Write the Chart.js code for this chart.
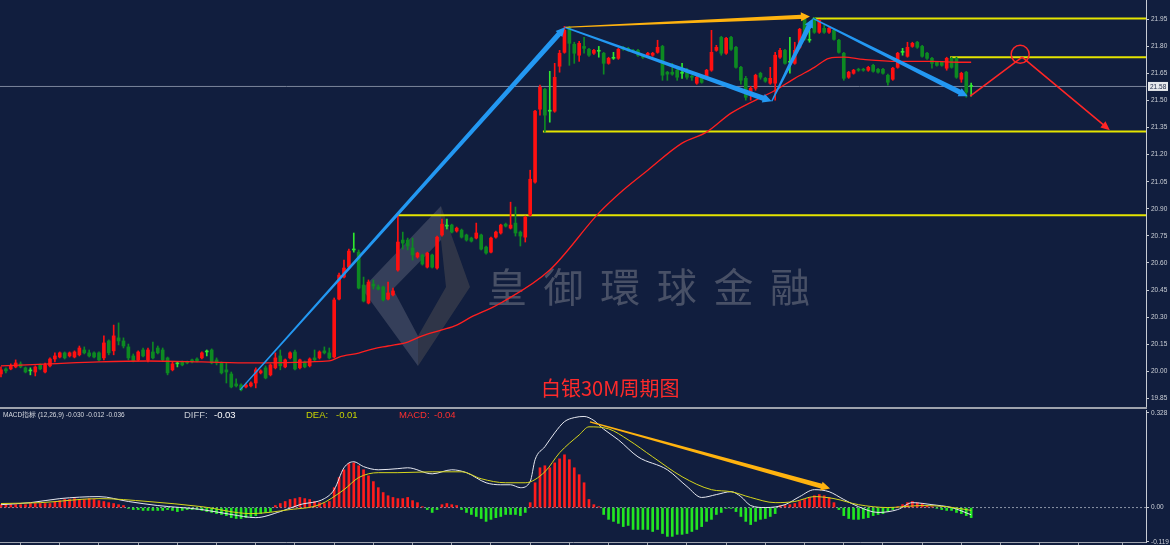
<!DOCTYPE html>
<html>
<head>
<meta charset="utf-8">
<script src="https://cdn.jsdelivr.net/npm/chart.js@4.4.0/dist/chart.umd.min.js"></script>
<style>
  html, body { margin: 0; padding: 0; background: #111e3e; }
  #wrap { position: relative; width: 1170px; height: 545px; overflow: hidden; background: #111e3e; }
  #main { position: absolute; left: 0; top: 0; }
  #sep { position: absolute; left: 0; top: 407px; width: 1147px; height: 2px; background: #9ea3ad; }
  #macd { position: absolute; left: 0; top: 410px; }
</style>
</head>
<body>
<div id="wrap">
  <canvas id="main" width="1170" height="407"></canvas>
  <div id="sep"></div>
  <canvas id="macd" width="1170" height="135"></canvas>
</div>
<script>
// silver, 30 minute candles
const opens = [
19.985,20.013,20.013,20.024,20.041,20.019,20.002,19.996,20.035,19.996,
20.030,20.068,20.079,20.102,20.085,20.079,20.091,20.118,20.102,20.102,
20.102,20.074,20.168,20.113,20.185,20.168,20.135,20.085,20.063,20.118,
20.063,20.107,20.129,20.118,20.074,20.008,20.041,20.052,20.052,20.063,
20.068,20.074,20.107,20.118,20.063,20.046,20.008,19.985,19.930,19.924,
19.913,19.919,19.935,19.991,20.019,19.980,20.019,20.085,20.024,20.074,
20.107,20.019,20.052,20.030,20.074,20.074,20.113,20.102,20.079,20.400,
20.522,20.577,20.672,20.660,20.478,20.378,20.483,20.467,20.467,20.400,
20.423,20.561,20.727,20.727,20.683,20.633,20.644,20.577,20.644,20.572,
20.755,20.804,20.810,20.777,20.782,20.755,20.738,20.738,20.755,20.688,
20.660,20.743,20.766,20.815,20.793,20.821,20.771,20.743,20.865,21.048,
21.452,21.562,21.441,21.441,21.690,21.767,21.906,21.812,21.751,21.800,
21.784,21.762,21.773,21.762,21.706,21.734,21.734,21.795,21.789,21.778,
21.778,21.751,21.751,21.751,21.767,21.800,21.657,21.657,21.668,21.651,
21.668,21.634,21.596,21.629,21.629,21.668,21.778,21.850,21.762,21.850,
21.795,21.684,21.623,21.546,21.568,21.651,21.623,21.596,21.596,21.740,
21.778,21.712,21.706,21.795,21.950,21.834,21.955,21.878,21.900,21.878,
21.889,21.834,21.762,21.629,21.651,21.673,21.673,21.668,21.695,21.673,
21.673,21.640,21.618,21.684,21.767,21.745,21.800,21.823,21.800,21.762,
21.734,21.712,21.712,21.679,21.734,21.734,21.618,21.657,21.578
];
const highs = [
20.024,20.019,20.041,20.063,20.052,20.024,20.019,20.030,20.041,20.046,
20.074,20.102,20.107,20.107,20.107,20.113,20.140,20.135,20.118,20.107,
20.107,20.196,20.174,20.256,20.268,20.185,20.151,20.096,20.113,20.129,
20.129,20.162,20.140,20.129,20.079,20.052,20.052,20.057,20.057,20.068,
20.074,20.107,20.118,20.124,20.074,20.052,20.046,19.996,19.958,19.930,
19.935,19.941,20.019,20.008,20.030,20.041,20.102,20.118,20.068,20.107,
20.118,20.068,20.057,20.074,20.118,20.113,20.135,20.129,20.406,20.544,
20.616,20.677,20.766,20.672,20.522,20.506,20.506,20.478,20.472,20.494,
20.461,20.865,20.771,20.738,20.738,20.660,20.649,20.660,20.649,20.749,
20.843,20.843,20.815,20.799,20.788,20.760,20.743,20.821,20.760,20.694,
20.743,20.777,20.815,20.821,20.937,20.910,20.777,20.860,21.114,21.446,
21.585,21.568,21.662,21.706,21.778,21.911,21.911,21.823,21.828,21.850,
21.789,21.784,21.800,21.767,21.740,21.767,21.789,21.800,21.795,21.784,
21.784,21.756,21.767,21.767,21.834,21.806,21.662,21.706,21.673,21.706,
21.679,21.640,21.634,21.634,21.673,21.889,21.806,21.856,21.850,21.856,
21.800,21.690,21.634,21.579,21.646,21.657,21.629,21.684,21.767,21.789,
21.784,21.850,21.823,21.900,21.955,21.889,21.961,21.950,21.917,21.906,
21.895,21.839,21.767,21.662,21.673,21.679,21.679,21.690,21.701,21.679,
21.679,21.646,21.684,21.767,21.789,21.823,21.823,21.828,21.806,21.767,
21.740,21.717,21.717,21.740,21.740,21.740,21.657,21.662,21.596
];
const lows = [
19.969,19.991,20.008,20.019,20.019,19.991,19.980,19.974,20.008,19.991,
20.024,20.052,20.074,20.068,20.079,20.074,20.085,20.096,20.079,20.074,
20.057,20.063,20.091,20.091,20.146,20.129,20.063,20.052,20.057,20.079,
20.052,20.068,20.096,20.057,19.980,20.002,20.024,20.030,20.041,20.046,
20.052,20.068,20.085,20.041,20.035,19.985,19.935,19.908,19.913,19.891,
19.908,19.913,19.908,19.985,19.958,19.974,20.013,20.008,20.019,20.068,
20.008,20.013,20.019,20.024,20.057,20.068,20.096,20.068,20.074,20.395,
20.517,20.572,20.660,20.456,20.384,20.373,20.456,20.450,20.389,20.395,
20.417,20.555,20.677,20.672,20.616,20.627,20.588,20.572,20.572,20.566,
20.749,20.788,20.766,20.771,20.738,20.721,20.716,20.733,20.672,20.649,
20.655,20.738,20.760,20.799,20.788,20.749,20.694,20.716,20.860,21.042,
21.419,21.325,21.380,21.435,21.657,21.762,21.695,21.706,21.717,21.762,
21.745,21.756,21.740,21.646,21.701,21.728,21.728,21.778,21.773,21.767,
21.745,21.734,21.745,21.745,21.762,21.612,21.612,21.640,21.612,21.623,
21.618,21.612,21.590,21.596,21.623,21.662,21.773,21.751,21.756,21.778,
21.679,21.590,21.502,21.502,21.557,21.618,21.601,21.590,21.502,21.734,
21.701,21.651,21.701,21.789,21.834,21.823,21.872,21.872,21.872,21.872,
21.834,21.762,21.612,21.623,21.646,21.662,21.662,21.662,21.657,21.651,
21.646,21.585,21.612,21.679,21.751,21.740,21.795,21.789,21.740,21.728,
21.679,21.690,21.690,21.668,21.679,21.623,21.601,21.518,21.524
];
const closes = [
20.008,20.002,20.030,20.046,20.024,19.996,20.002,20.024,20.013,20.035,
20.068,20.085,20.102,20.074,20.102,20.107,20.129,20.102,20.085,20.079,
20.063,20.157,20.102,20.196,20.168,20.140,20.074,20.057,20.107,20.085,
20.118,20.074,20.102,20.063,19.991,20.041,20.041,20.035,20.046,20.052,
20.057,20.102,20.107,20.046,20.046,19.991,19.996,19.913,19.919,19.897,
19.924,19.935,20.008,20.002,19.963,20.035,20.074,20.030,20.063,20.102,
20.013,20.063,20.024,20.068,20.063,20.107,20.102,20.074,20.395,20.533,
20.572,20.666,20.672,20.461,20.389,20.494,20.472,20.456,20.395,20.434,
20.445,20.716,20.710,20.694,20.644,20.655,20.594,20.655,20.577,20.743,
20.815,20.804,20.771,20.793,20.743,20.727,20.721,20.766,20.677,20.655,
20.738,20.771,20.810,20.804,20.810,20.766,20.749,20.854,21.064,21.441,
21.574,21.419,21.441,21.629,21.762,21.889,21.817,21.762,21.817,21.789,
21.751,21.778,21.773,21.706,21.734,21.734,21.784,21.784,21.778,21.773,
21.751,21.740,21.762,21.762,21.795,21.640,21.646,21.646,21.629,21.651,
21.629,21.629,21.629,21.601,21.668,21.767,21.795,21.762,21.845,21.784,
21.684,21.612,21.518,21.568,21.640,21.629,21.607,21.623,21.751,21.778,
21.706,21.712,21.778,21.895,21.839,21.834,21.878,21.944,21.878,21.900,
21.839,21.767,21.623,21.657,21.668,21.668,21.668,21.684,21.662,21.657,
21.651,21.601,21.679,21.762,21.767,21.795,21.817,21.795,21.745,21.734,
21.706,21.695,21.695,21.734,21.684,21.629,21.651,21.546,21.578
];

// red moving average, read at a few candles
const maIdx = [0,10,20,30,41,51,67,69,73,76,79,83,86,90,93,96,100,102,112,122,127,132,139,144,149,158,162,166,169,172,176,183,190,196,198];
const maVal = [20.030,20.041,20.052,20.057,20.052,20.046,20.057,20.079,20.101,20.124,20.140,20.162,20.196,20.229,20.256,20.301,20.350,20.378,20.561,20.876,21.004,21.114,21.264,21.325,21.430,21.557,21.623,21.684,21.734,21.740,21.728,21.717,21.717,21.712,21.712];

// MACD (12,26,9)
const hist = [
0.010,0.010,0.010,0.010,0.010,0.010,0.014,0.014,0.014,0.014,
0.014,0.021,0.024,0.028,0.028,0.031,0.028,0.028,0.031,0.028,
0.024,0.021,0.017,0.014,0.010,0.007,-0.003,-0.007,-0.007,-0.010,
-0.010,-0.010,-0.010,-0.010,-0.007,-0.010,-0.014,-0.010,-0.007,-0.007,
-0.007,-0.010,-0.014,-0.017,-0.021,-0.024,-0.028,-0.035,-0.038,-0.038,
-0.035,-0.031,-0.028,-0.021,-0.017,-0.014,0.007,0.014,0.021,0.028,
0.031,0.035,0.031,0.028,0.021,0.017,0.014,0.021,0.069,0.104,
0.131,0.152,0.155,0.145,0.131,0.110,0.090,0.069,0.052,0.041,
0.035,0.031,0.031,0.035,0.024,0.017,0.003,-0.007,-0.017,-0.007,
0.010,0.014,0.010,0.007,-0.007,-0.017,-0.024,-0.031,-0.038,-0.048,
-0.041,-0.035,-0.031,-0.024,-0.024,-0.024,-0.028,-0.017,0.017,0.086,
0.138,0.145,0.138,0.155,0.169,0.183,0.166,0.138,0.114,0.086,
0.028,0.010,0.003,-0.024,-0.041,-0.048,-0.055,-0.066,-0.062,-0.076,
-0.076,-0.076,-0.076,-0.083,-0.076,-0.090,-0.100,-0.100,-0.093,-0.093,
-0.090,-0.083,-0.076,-0.066,-0.048,-0.041,-0.024,-0.017,-0.003,-0.003,
-0.014,-0.031,-0.048,-0.059,-0.048,-0.041,-0.038,-0.031,-0.021,0.007,
0.007,0.010,0.014,0.021,0.028,0.035,0.041,0.045,0.041,0.035,
0.017,-0.007,-0.028,-0.038,-0.041,-0.041,-0.038,-0.035,-0.028,-0.024,
-0.021,-0.014,-0.007,0.003,0.010,0.017,0.021,0.017,0.014,0.007,
0.003,-0.003,-0.007,-0.010,-0.010,-0.017,-0.021,-0.028,-0.035
];
const difIdx = [0,6,12,20,26,32,41,47,52,57,61,66,68,70,72,74,77,81,83,88,92,95,99,102,104,106,108,109,111,113,115,117,119,121,123,126,130,136,140,143,146,149,151,153,156,160,163,166,169,172,175,179,183,186,190,194,198];
const difVal = [0.010,0.017,0.031,0.038,0.021,0.007,-0.007,-0.024,-0.035,-0.014,0.010,0.031,0.062,0.138,0.159,0.142,0.131,0.135,0.138,0.117,0.131,0.121,0.086,0.079,0.079,0.069,0.090,0.166,0.211,0.259,0.298,0.312,0.316,0.302,0.272,0.235,0.176,0.131,0.073,0.035,0.045,0.055,0.038,0.007,0.000,0.010,0.038,0.062,0.055,0.028,0.003,-0.017,-0.007,0.017,0.010,0.000,-0.025];
const deaIdx = [0,8,20,30,41,51,59,65,70,73,77,81,88,94,98,103,107,111,114,118,120,124,128,133,139,145,149,153,158,162,166,170,175,181,188,193,198];
const deaVal = [0.014,0.017,0.031,0.021,0.003,-0.021,-0.007,0.010,0.062,0.104,0.121,0.121,0.124,0.124,0.100,0.086,0.086,0.124,0.190,0.252,0.280,0.273,0.235,0.176,0.107,0.062,0.055,0.035,0.017,0.021,0.038,0.031,0.010,0.000,0.007,0.003,-0.010];

// axis ticks
const priceTicks = [21.95,21.80,21.65,21.50,21.35,21.20,21.05,20.90,20.75,20.60,20.45,20.30,20.15,20.00,19.85];
const macdTicks = [0.328, 0, -0.119];
const macdTickLabels = ['0.328', '0.00', '-0.119'];

// hand drawn marks: [fromCandle, fromPrice, toCandle, toPrice]
const blueArrows = [
  [48.8, 19.897, 115.1, 21.906],
  [115.1, 21.906, 157.3, 21.496],
  [157.3, 21.496, 165.7, 21.955],
  [165.7, 21.955, 197.3, 21.524]
];
const orangeArrow = [115.3, 21.906, 165.1, 21.966];
const redPath = [[197.8, 21.524], [208.4, 21.740], [226.3, 21.336]];
const redCircle = [208.0, 21.756];
const levels = [21.955, 21.740, 21.328, 20.865];
const levelStarts = [165.7, 193.7, 110.6, 80.8];
const macdArrow = [120.2, 0.297, 169.2, 0.066];

const X_MIN = -0.2, X_MAX = 233.68;
const UP = '#ff1010', DOWN = '#0d8a22', DOJI = '#2ee82e';

Chart.defaults.font.family = '"Liberation Sans", Arial, sans-serif';
Chart.defaults.animation = false;

const candleColors = opens.map((o, i) => closes[i] > o ? UP : (closes[i] < o ? DOWN : DOJI));
const lastClose = closes[closes.length - 1];

function noPad(s) {
  s.width = 24;
  s.paddingTop = 0;
  s.paddingBottom = 0;
}

function taper(ctx, x1, y1, x2, y2, w0, w1, headLen, headW, color) {
  const dx = x2 - x1, dy = y2 - y1, L = Math.hypot(dx, dy);
  const ux = dx / L, uy = dy / L, nx = -uy, ny = ux;
  const bx = x2 - ux * headLen, by = y2 - uy * headLen;
  ctx.beginPath();
  ctx.moveTo(x1 + nx * w0, y1 + ny * w0);
  ctx.lineTo(bx + nx * w1, by + ny * w1);
  ctx.lineTo(bx + nx * headW, by + ny * headW);
  ctx.lineTo(x2, y2);
  ctx.lineTo(bx - nx * headW, by - ny * headW);
  ctx.lineTo(bx - nx * w1, by - ny * w1);
  ctx.lineTo(x1 - nx * w0, y1 - ny * w0);
  ctx.closePath();
  ctx.fillStyle = color;
  ctx.fill();
}

const mainDecor = {
  id: 'mainDecor',
  beforeDatasetsDraw(chart) {
    const ctx = chart.ctx;
    ctx.save();
    // logo: light band on the upper left, darker one on the right
    ctx.beginPath();
    ctx.moveTo(362, 289); ctx.lineTo(441, 206); ctx.lineTo(441, 240); ctx.lineTo(393, 289); ctx.lineTo(418, 336); ctx.lineTo(418, 366); ctx.closePath();
    ctx.fillStyle = 'rgba(160,160,170,0.26)';
    ctx.fill();
    ctx.beginPath();
    ctx.moveTo(441, 206); ctx.lineTo(470, 287); ctx.lineTo(418, 366); ctx.lineTo(418, 336); ctx.lineTo(446, 287); ctx.lineTo(441, 240); ctx.closePath();
    ctx.fillStyle = 'rgba(120,110,95,0.30)';
    ctx.fill();
    // watermark
    ctx.font = '40px "Noto Sans CJK TC"';
    ctx.fillStyle = 'rgba(150,150,158,0.42)';
    ctx.textBaseline = 'middle';
    const wm = '皇御環球金融';
    for (let k = 0; k < wm.length; k++) ctx.fillText(wm[k], 487 + k * 56.6, 287);
    ctx.restore();
  },
  afterDatasetsDraw(chart) {
    const ctx = chart.ctx, xs = chart.scales.x, ys = chart.scales.y;
    const px = v => xs.getPixelForValue(v), py = v => ys.getPixelForValue(v);
    ctx.save();
    blueArrows.forEach(a => taper(ctx, px(a[0]), py(a[1]), px(a[2]), py(a[3]), 0.7, 2.6, 9, 4.5, '#2398f2'));
    taper(ctx, px(orangeArrow[0]), py(orangeArrow[1]), px(orangeArrow[2]), py(orangeArrow[3]), 0.6, 2.2, 9, 4.5, '#ffb30f');
    // red path
    ctx.strokeStyle = '#ff2626';
    ctx.lineWidth = 1.6;
    ctx.beginPath();
    ctx.moveTo(px(redPath[0][0]), py(redPath[0][1]));
    ctx.lineTo(px(redPath[1][0]), py(redPath[1][1]));
    ctx.stroke();
    taper(ctx, px(redPath[1][0]), py(redPath[1][1]), px(redPath[2][0]), py(redPath[2][1]), 0.8, 0.8, 9, 4, '#ff2626');
    ctx.beginPath();
    ctx.arc(px(redCircle[0]), py(redCircle[1]), 9, 0, Math.PI * 2);
    ctx.lineWidth = 1.5;
    ctx.stroke();
    // caption
    ctx.font = '20px "Noto Sans CJK SC"';
    ctx.fillStyle = '#ff2a2a';
    ctx.textBaseline = 'middle';
    ctx.fillText('白银30M周期图', 541, 388);
    ctx.restore();
  },
  afterDraw(chart) {
    const ctx = chart.ctx, y = chart.scales.y.getPixelForValue(lastClose);
    ctx.save();
    ctx.fillStyle = '#e6e8ec';
    ctx.fillRect(1148, y - 4.5, 20, 9);
    ctx.fillStyle = '#1b2544';
    ctx.font = '6.5px "Liberation Sans"';
    ctx.textBaseline = 'middle';
    ctx.fillText(lastClose.toFixed(2), 1150, y + 0.5);
    ctx.restore();
  }
};

const levelSets = levels.map((lv, k) => ({
  type: 'line',
  data: [{ x: levelStarts[k], y: lv }, { x: X_MAX, y: lv }],
  borderColor: '#e4e400',
  borderWidth: 2,
  pointRadius: 0,
  order: 3
}));

new Chart(document.getElementById('main'), {
  type: 'bar',
  data: {
    datasets: [
      {
        type: 'line',
        data: maIdx.map((x, i) => ({ x: x, y: maVal[i] })),
        borderColor: '#ff1f1f',
        borderWidth: 1.3,
        pointRadius: 0,
        cubicInterpolationMode: 'monotone',
        order: 0
      },
      {
        data: lows.map((l, i) => ({ x: i, y: [l, highs[i]] })),
        backgroundColor: candleColors,
        barThickness: 1,
        grouped: false,
        order: 2
      },
      {
        data: opens.map((o, i) => ({ x: i, y: [o, closes[i]] })),
        backgroundColor: candleColors,
        barThickness: 3,
        minBarLength: 1,
        grouped: false,
        order: 1
      },
      ...levelSets,
      {
        type: 'line',
        data: [{ x: X_MIN, y: lastClose }, { x: X_MAX, y: lastClose }],
        borderColor: '#7c869c',
        borderWidth: 1,
        pointRadius: 0,
        order: 4
      }
    ]
  },
  options: {
    responsive: false,
    devicePixelRatio: 1,
    events: [],
    layout: { padding: 0 },
    plugins: { legend: { display: false }, tooltip: { enabled: false } },
    scales: {
      x: { type: 'linear', min: X_MIN, max: X_MAX, offset: false, display: false },
      y: {
        position: 'right',
        min: 19.802,
        max: 22.057,
        afterBuildTicks: s => { s.ticks = priceTicks.map(v => ({ value: v })); },
        afterFit: noPad,
        ticks: { callback: v => v.toFixed(2), color: '#cdd1d8', font: { size: 6.5 }, padding: 2 },
        grid: { drawOnChartArea: false, tickLength: 3, color: '#c8ccd4' },
        border: { color: '#c8ccd4' }
      }
    }
  },
  plugins: [mainDecor]
});

const macdDecor = {
  id: 'macdDecor',
  afterDatasetsDraw(chart) {
    const ctx = chart.ctx, xs = chart.scales.x, ys = chart.scales.y;
    ctx.save();
    taper(ctx, xs.getPixelForValue(macdArrow[0]), ys.getPixelForValue(macdArrow[1]),
      xs.getPixelForValue(macdArrow[2]), ys.getPixelForValue(macdArrow[3]), 0.6, 2.4, 9, 4.5, '#ffb30f');
    ctx.textBaseline = 'middle';
    ctx.font = '6.5px "Liberation Sans"';
    ctx.fillStyle = '#d8dbe2';
    ctx.fillText('MACD指标 (12,26,9) -0.030 -0.012 -0.036', 3, 5);
    ctx.font = '9.5px "Liberation Sans"';
    ctx.fillStyle = '#c4c8d0';
    ctx.fillText('DIFF:', 184, 5);
    ctx.fillStyle = '#ffffff';
    ctx.fillText('-0.03', 214, 5);
    ctx.fillStyle = '#c8d400';
    ctx.fillText('DEA:', 306, 5);
    ctx.fillText('-0.01', 336, 5);
    ctx.fillStyle = '#ff3030';
    ctx.fillText('MACD:', 399, 5);
    ctx.fillText('-0.04', 434, 5);
    ctx.restore();
  }
};

new Chart(document.getElementById('macd'), {
  type: 'bar',
  data: {
    datasets: [
      {
        type: 'line',
        data: deaIdx.map((x, i) => ({ x: x, y: deaVal[i] })),
        borderColor: '#d6d61c',
        borderWidth: 1,
        pointRadius: 0,
        cubicInterpolationMode: 'monotone',
        order: 0
      },
      {
        type: 'line',
        data: difIdx.map((x, i) => ({ x: x, y: difVal[i] })),
        borderColor: '#e6e8f0',
        borderWidth: 1,
        pointRadius: 0,
        cubicInterpolationMode: 'monotone',
        order: 1
      },
      {
        data: hist.map((v, i) => ({ x: i, y: v })),
        backgroundColor: hist.map(v => v >= 0 ? '#ff1c1c' : '#22e622'),
        barThickness: 2,
        grouped: false,
        order: 2
      },
      {
        type: 'line',
        data: [{ x: X_MIN, y: 0 }, { x: X_MAX, y: 0 }],
        borderColor: '#8b93a5',
        borderWidth: 1,
        borderDash: [2, 2],
        pointRadius: 0,
        order: 3
      }
    ]
  },
  options: {
    responsive: false,
    devicePixelRatio: 1,
    events: [],
    layout: { padding: 0 },
    plugins: { legend: { display: false }, tooltip: { enabled: false } },
    scales: {
      x: {
        type: 'linear', min: X_MIN, max: X_MAX, offset: false,
        ticks: { display: false, stepSize: 8 },
        grid: { drawOnChartArea: false, tickLength: 3, color: '#a0a5b0' },
        border: { color: '#a0a5b0' }
      },
      y: {
        position: 'right',
        min: -0.1195,
        max: 0.3384,
        afterBuildTicks: s => { s.ticks = macdTicks.map(v => ({ value: v })); },
        afterFit: noPad,
        ticks: { callback: v => macdTickLabels[macdTicks.indexOf(v)], color: '#cdd1d8', font: { size: 6.5 }, padding: 2 },
        grid: { drawOnChartArea: false, tickLength: 3, color: '#c8ccd4' },
        border: { color: '#c8ccd4' }
      }
    }
  },
  plugins: [macdDecor]
});
</script>
</body>
</html>
